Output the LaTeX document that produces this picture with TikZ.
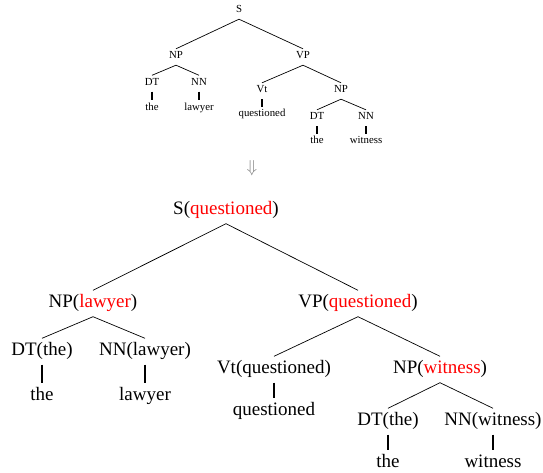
\documentclass[tikz,border=0pt]{standalone}
\usepackage{fontspec}
\setmainfont{Liberation Serif}
\usepackage{xcolor}
\usepackage{tikz}

\begin{document}
\begin{tikzpicture}[x=1pt,y=1pt,
  small/.style={anchor=base,inner sep=0pt,font=\fontsize{10.8}{12}\selectfont,text height=10pt,text depth=6pt},
  big/.style={anchor=base,inner sep=0pt,font=\fontsize{19}{21}\selectfont,text height=16.5pt,text depth=9.5pt},
  branch/.style={black,line width=0.7pt},
  stem/.style={black,line width=1.3pt}]
\useasboundingbox (0,0) rectangle (543,-473);
% plain tree
\node[small] (s1) at (239,-13) {S};
\node[small] (s2) at (176,-59) {NP};
\node[small] (s3) at (303,-59) {VP};
\node[small] (s4) at (152,-85.5) {DT};
\node[small] (s5) at (199,-85.5) {NN};
\node[small] (s6) at (152,-110.5) {the};
\node[small] (s7) at (199,-110.5) {lawyer};
\node[small] (s8) at (262,-93) {Vt};
\node[small] (s9) at (341,-93) {NP};
\node[small] (s10) at (262,-117) {questioned};
\node[small] (s11) at (317,-120) {DT};
\node[small] (s12) at (366,-120) {NN};
\node[small] (s13) at (317,-144) {the};
\node[small] (s14) at (366,-144) {witness};
\draw[branch] (s1.south) -- (s2.north);
\draw[branch] (s1.south) -- (s3.north);
\draw[branch] (s2.south) -- (s4.north);
\draw[branch] (s2.south) -- (s5.north);
\draw[stem] (s4.south) -- (s6.north);
\draw[stem] (s5.south) -- (s7.north);
\draw[branch] (s3.south) -- (s8.north);
\draw[branch] (s3.south) -- (s9.north);
\draw[stem] (s8.south) -- (s10.north);
\draw[branch] (s9.south) -- (s11.north);
\draw[branch] (s9.south) -- (s12.north);
\draw[stem] (s11.south) -- (s13.north);
\draw[stem] (s12.south) -- (s14.north);

\node[gray,font=\fontsize{19}{19}\selectfont] (arr) at (252,-168.5) {$\Downarrow$};

% lexicalized tree
\node[big] (b1) at (226,-214) {S(\textcolor{red}{questioned})};
\node[big] (b2) at (93,-307) {NP(\textcolor{red}{lawyer})};
\node[big] (b3) at (358,-307) {VP(\textcolor{red}{questioned})};
\node[big] (b4) at (42,-355) {DT(the)};
\node[big] (b5) at (145,-355) {NN(lawyer)};
\node[big] (b6) at (42,-400) {the};
\node[big] (b7) at (145,-400) {lawyer};
\node[big] (b8) at (274,-373) {Vt(questioned)};
\node[big] (b9) at (440,-373) {NP(\textcolor{red}{witness})};
\node[big] (b10) at (274,-415) {questioned};
\node[big] (b11) at (388,-425) {DT(the)};
\node[big] (b12) at (493,-425) {NN(witness)};
\node[big] (b13) at (388,-467) {the};
\node[big] (b14) at (493,-467) {witness};
\draw[branch] (b1.south) -- (b2.north);
\draw[branch] (b1.south) -- (b3.north);
\draw[branch] (b2.south) -- (b4.north);
\draw[branch] (b2.south) -- (b5.north);
\draw[stem] (b4.south) -- (b6.north);
\draw[stem] (b5.south) -- (b7.north);
\draw[branch] (b3.south) -- (b8.north);
\draw[branch] (b3.south) -- (b9.north);
\draw[stem] (b8.south) -- (b10.north);
\draw[branch] (b9.south) -- (b11.north);
\draw[branch] (b9.south) -- (b12.north);
\draw[stem] (b11.south) -- (b13.north);
\draw[stem] (b12.south) -- (b14.north);
\end{tikzpicture}
\end{document}
